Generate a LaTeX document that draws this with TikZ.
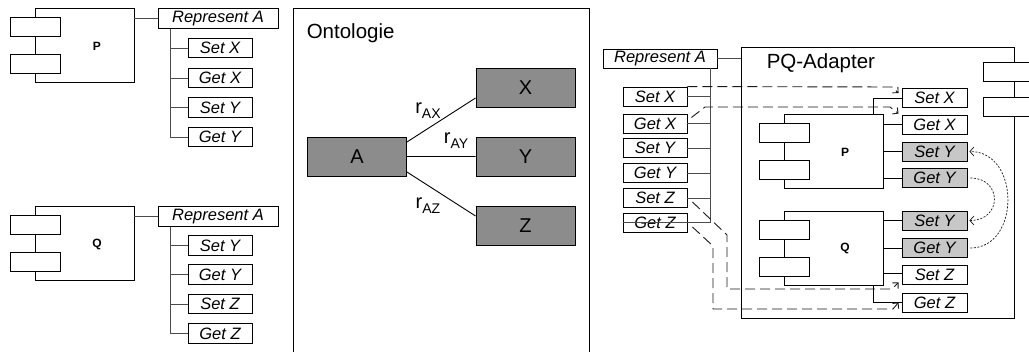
\documentclass[tikz,border=0pt]{standalone}
\usepackage{fontspec}
\setmainfont{Liberation Sans}
\usetikzlibrary{arrows.meta}

\definecolor{wire}{gray}{0.3}
\definecolor{conceptfill}{gray}{0.55}
\definecolor{sharedfill}{gray}{0.78}

\begin{document}
\begin{tikzpicture} [ x=1pt, y=-1pt, line width=0.9pt,
    opbox/.style={draw, fill=white, inner sep=0pt, minimum width=64, minimum height=19.5,
      font=\fontsize{16.5}{18}\selectfont\itshape},
    sharedbox/.style={opbox, fill=sharedfill},
    compbox/.style={draw, fill=white, minimum width=99, minimum height=74},
    lug/.style={draw, fill=white, minimum width=50, minimum height=19},
    complabel/.style={font=\fontsize{12}{13}\selectfont\bfseries},
    concept/.style={draw, fill=conceptfill, minimum width=99, minimum height=39,
      font=\fontsize{20}{22}\selectfont},
    title/.style={anchor=west, font=\fontsize{20.5}{22}\selectfont},
    rlabel/.style={font=\fontsize{20}{22}\selectfont},
    tree/.style={draw=wire},
    route/.style={draw=black!90, dash pattern=on 10pt off 5pt, -{Straight Barb[length=4pt,width=8pt]}},
    swap/.style={draw=black!90, line width=0.7pt, dash pattern=on 2pt off 1.5pt,
      -{Straight Barb[length=4pt,width=9pt]}, shorten <=3pt, shorten >=2pt},
  ]
    \useasboundingbox (0,0) rectangle (1029,352);
    \clip (0,0) rectangle (1029,352);

    % component P with its interface
    \node[compbox] (P1) at (84.5,45) {};
    \node[lug] (P1a) at (35,26.5) {};
    \node[lug] (P1b) at (35,63.5) {};
    \node[complabel] (P1l) at (97,46) {P};
    \node[opbox, minimum width=120] (repA1) at (218,18.5) {Represent A};
    \node[opbox] (setX1) at (220,48) {Set X};
    \node[opbox] (getX1) at (220,78) {Get X};
    \node[opbox] (setY1) at (220,107.5) {Set Y};
    \node[opbox] (getY1) at (220,137) {Get Y};
    \coordinate (t1) at (170,0);
    \draw[tree] (P1.east |- repA1.west) -- (repA1.west)
    (t1 |- repA1.south) -- (t1 |- getY1.west) -- (getY1.west)
    (t1 |- setX1.west) -- (setX1.west)
    (t1 |- getX1.west) -- (getX1.west)
    (t1 |- setY1.west) -- (setY1.west)
    ;

    % component Q with its interface
    \node[compbox] (Q1) at (84.5,243) {};
    \node[lug] (Q1a) at (35,224.5) {};
    \node[lug] (Q1b) at (35,261.5) {};
    \node[complabel] (Q1l) at (97,244) {Q};
    \node[opbox, minimum width=120] (repA2) at (218,216.5) {Represent A};
    \node[opbox] (setY2) at (220,245.5) {Set Y};
    \node[opbox] (getY2) at (220,274.5) {Get Y};
    \node[opbox] (setZ2) at (220,304) {Set Z};
    \node[opbox] (getZ2) at (220,333.5) {Get Z};
    \coordinate (t2) at (170,0);
    \draw[tree] (Q1.east |- repA2.west) -- (repA2.west)
    (t2 |- repA2.south) -- (t2 |- getZ2.west) -- (getZ2.west)
    (t2 |- setY2.west) -- (setY2.west)
    (t2 |- getY2.west) -- (getY2.west)
    (t2 |- setZ2.west) -- (setZ2.west)
    ;

    % ontology
    \node[draw, anchor=north west, minimum width=296, minimum height=360] (onto) at (293,8) {};
    \node[title] (ontotitle) at (303,33) {Ontologie};
    \node[concept] (A) at (357,156.5) {A};
    \node[concept] (X) at (525.5,87.5) {X};
    \node[concept] (Y) at (525.5,156.5) {Y};
    \node[concept] (Z) at (525.5,226) {Z};
    \draw ([shift={(0,-14.5)}]A.east) -- ([shift={(0,10.5)}]X.west)
    (A.east) -- (Y.west)
    ([shift={(0,15.5)}]A.east) -- ([shift={(0,-10)}]Z.west)
    ;
    \node[rlabel] (rAX) at (428,111) {r\raisebox{-5pt}{\fontsize{14}{14}\selectfont AX}};
    \node[rlabel] (rAY) at (456,141) {r\raisebox{-5pt}{\fontsize{14}{14}\selectfont AY}};
    \node[rlabel] (rAZ) at (428,206) {r\raisebox{-5pt}{\fontsize{14}{14}\selectfont AZ}};

    % adapter
    \node[draw, fill=white, anchor=north west, minimum width=273, minimum height=271] (PQ) at (741,47) {};
    \node[lug, minimum width=62] (PQa) at (1014,72) {};
    \node[lug, minimum width=62] (PQb) at (1014,107) {};
    \node[title] (PQtitle) at (763,63) {PQ-Adapter};

    \node[opbox, minimum width=114, minimum height=19] (repA3) at (660,58.5) {Represent A};
    \node[opbox, minimum height=19] (setX3) at (655,96.5) {Set X};
    \node[opbox, minimum height=19] (getX3) at (655,123.5) {Get X};
    \node[opbox, minimum height=19] (setY3) at (655,148) {Set Y};
    \node[opbox, minimum height=19] (getY3) at (655,173) {Get Y};
    \node[opbox, minimum height=19] (setZ3) at (655,198) {Set Z};
    \node[opbox, minimum height=19] (getZ3) at (655,222.5) {Get Z};
    \coordinate (t3) at (710,0);
    \draw[tree] (repA3.east) -- (repA3.east -| PQ.west)
    (t3 |- repA3.south) -- (t3 |- getZ3.west) -- (getZ3.west)
    (t3 |- setX3.east) -- (setX3.east)
    (t3 |- getX3.east) -- (getX3.east)
    (t3 |- setY3.east) -- (setY3.east)
    (t3 |- getY3.east) -- (getY3.east)
    (t3 |- setZ3.east) -- (setZ3.east)
    ;

    % P and Q inside the adapter
    \node[compbox] (P4) at (833.5,151) {};
    \node[lug] (P4a) at (784,132.5) {};
    \node[lug] (P4b) at (784,169.5) {};
    \node[complabel] (P4l) at (845,152) {P};
    \node[compbox] (Q4) at (833.5,248) {};
    \node[lug] (Q4a) at (784,229.5) {};
    \node[lug] (Q4b) at (784,266.5) {};
    \node[complabel] (Q4l) at (845,248) {Q};

    \node[opbox, minimum width=65, minimum height=19] (setX4) at (934.5,98) {Set X};
    \node[opbox, minimum width=65, minimum height=19] (getX4) at (934.5,124.5) {Get X};
    \node[sharedbox, minimum width=65, minimum height=19] (setY4) at (934.5,151.5) {Set Y};
    \node[sharedbox, minimum width=65, minimum height=19] (getY4) at (934.5,178) {Get Y};
    \node[sharedbox, minimum width=65, minimum height=19] (setY5) at (934.5,220.5) {Set Y};
    \node[sharedbox, minimum width=65, minimum height=19] (getY5) at (934.5,248) {Get Y};
    \node[opbox, minimum width=65, minimum height=19] (setZ5) at (934.5,274.5) {Set Z};
    \node[opbox, minimum width=65, minimum height=19] (getZ5) at (934.5,302.5) {Get Z};

    \draw ([shift={(-10,0)}]P4.north east) |- (setX4.west)
    (P4.east |- getX4.west) -- (getX4.west)
    (P4.east |- setY4.west) -- (setY4.west)
    (P4.east |- getY4.west) -- (getY4.west)
    (Q4.east |- setY5.west) -- (setY5.west)
    (Q4.east |- getY5.west) -- (getY5.west)
    ([shift={(0,-1.5)}]Q4.east |- setZ5.west) -- ([shift={(0,-1.5)}]setZ5.west)
    ([shift={(-10,0)}]Q4.south east) |- (getZ5.west)
    ;

    % outer operations routed to the inner components
    \draw[route] (setX3.north east) -- (892,87) -- ([shift={(-3,5)}]setX4.north west);
    \draw[route] ([shift={(4,-6)}]getX3.east) -- (705,107) -- (890,107) -- ([shift={(-3,-1)}]getX4.north west);
    \draw[route] ([shift={(5,4)}]setZ3.east) -- (727,235) -- (727,289) -- (892,289) -- ([shift={(-3,-2)}]setZ5.south west);
    \draw[route] ([shift={(5,4.5)}]getZ3.east) -- (713,246) -- (713,309) -- (893,309) -- ([shift={(-3,0)}]getZ5.west);

    % Y is shared between P and Q
    \draw[swap] (getY4.east) .. controls +(35,0) and +(35,0) .. (setY5.east);
    \draw[swap] (getY5.east) .. controls +(53,0) and +(53,0) .. (setY4.east);

\end{tikzpicture}
\end{document}
